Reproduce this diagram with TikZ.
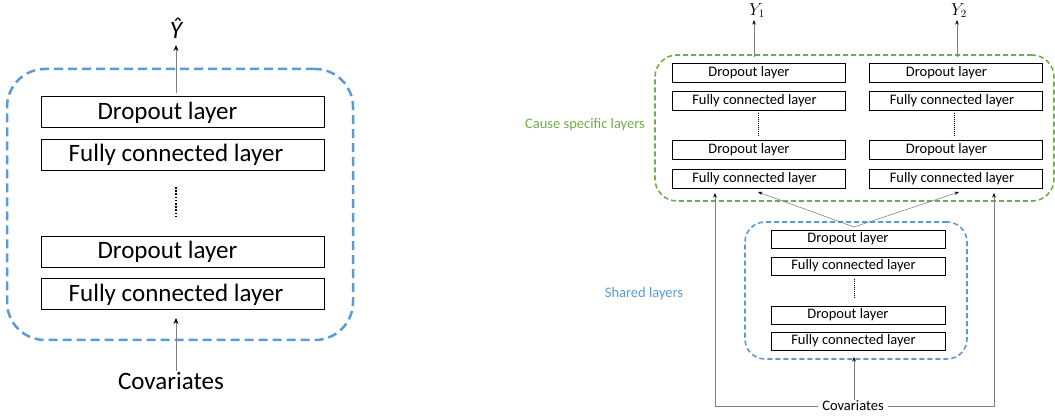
\documentclass[tikz,border=0pt]{standalone}
\usepackage{fontspec}
\setmainfont{Carlito}
\usetikzlibrary{arrows.meta}
\definecolor{myblue}{RGB}{91,155,213}
\definecolor{mygreen}{RGB}{112,173,71}
\newcommand{\shl}[2]{\hspace*{-#1}#2}
\begin{document}
\begin{tikzpicture}[x=1pt,y=-1pt,
  bigbox/.style={draw, line width=1pt, minimum width=283pt, minimum height=31pt, inner sep=0pt, font=\fontsize{25}{27}\selectfont},
  smallbox/.style={draw, line width=0.7pt, minimum width=173pt, minimum height=19pt, inner sep=0pt, font=\fontsize{14.5}{16}\selectfont},
  sharedbox/.style={smallbox, minimum width=174pt, minimum height=18pt},
  arr/.style={draw=gray, line width=0.8pt, -{Stealth[black,length=6pt,width=5pt]}},
  sarr/.style={draw=gray, line width=0.6pt, -{Stealth[black,length=4.5pt,width=3.5pt]}},
  bigdots/.style={line width=1.6pt, dash pattern=on 1.6pt off 1.6pt},
  smalldots/.style={line width=1pt, dash pattern=on 1pt off 1pt},
  plain/.style={inner sep=1pt},
]
\useasboundingbox (0,0) rectangle (1055,419);

% ---------------- left diagram ----------------
\node[draw=myblue, dashed, dash pattern=on 9pt off 5pt, line width=2.5pt, rounded corners=38pt,
      minimum width=346pt, minimum height=271pt] (lgrp) at (180,204.5) {};
\node[bigbox] (l1) at (182.5,112.5) {\shl{30pt}{Dropout layer}};
\node[bigbox] (l2) at (182.5,155) {\shl{13pt}{Fully connected layer}};
\node[bigbox] (l3) at (182.5,252) {\shl{30pt}{Dropout layer}};
\node[bigbox] (l4) at (182.5,294.5) {\shl{13pt}{Fully connected layer}};
\draw[bigdots] (176,187) -- (176,217);
\node[plain, anchor=south, font=\fontsize{25}{27}\selectfont\itshape] (yhat) at (176,40) {Ŷ};
\node[plain, font=\fontsize{25}{27}\selectfont] (lcov) at (171,381) {Covariates};
\coordinate (lin) at (176,318);
\coordinate (lout) at (176,93);
\draw[arr] (lout) -- (lout |- 0,45);
\draw[arr] (lcov.north -| lin) -- (lin);

% ---------------- right diagram ----------------
\node[draw=mygreen, dashed, dash pattern=on 5pt off 3pt, line width=1.6pt, rounded corners=22pt,
      minimum width=399pt, minimum height=146pt] (cgrp) at (854.5,128) {};
\node[draw=myblue, dashed, dash pattern=on 5pt off 3pt, line width=1.6pt, rounded corners=20pt,
      minimum width=222pt, minimum height=137pt] (sgrp) at (856,290.5) {};

\node[smallbox] (a1) at (758.5,72.5) {\shl{19pt}{Dropout layer}};
\node[smallbox] (a2) at (758.5,100.5) {\shl{8pt}{Fully connected layer}};
\node[smallbox] (a3) at (758.5,150) {\shl{19pt}{Dropout layer}};
\node[smallbox] (a4) at (758.5,178.5) {\shl{8pt}{Fully connected layer}};
\draw[smalldots] (758,113) -- (758,136);

\node[smallbox] (b1) at (956,72.5) {\shl{19pt}{Dropout layer}};
\node[smallbox] (b2) at (956,100.5) {\shl{8pt}{Fully connected layer}};
\node[smallbox] (b3) at (956,150) {\shl{19pt}{Dropout layer}};
\node[smallbox] (b4) at (956,178.5) {\shl{8pt}{Fully connected layer}};
\draw[smalldots] (954,113) -- (954,136);

\node[sharedbox] (s1) at (858,239) {\shl{20pt}{Dropout layer}};
\node[sharedbox] (s2) at (858,266) {\shl{9pt}{Fully connected layer}};
\node[sharedbox] (s3) at (858,315) {\shl{20pt}{Dropout layer}};
\node[sharedbox] (s4) at (858,341) {\shl{9pt}{Fully connected layer}};
\draw[smalldots] (854,279) -- (854,299);

\node[plain, font=\fontsize{14.5}{16}\selectfont, text=mygreen] (clab) at (585,125) {Cause specific layers};
\node[plain, font=\fontsize{14.5}{16}\selectfont, text=myblue] (slab) at (644,294) {Shared layers};

\node[plain, anchor=south, font=\fontsize{16}{18}\selectfont] (y1) at (757,19) {$Y_1$};
\node[plain, anchor=south, font=\fontsize{16}{18}\selectfont] (y2) at (959,19) {$Y_2$};
\coordinate (y1o) at (754,57);
\coordinate (y2o) at (957,57);
\draw[sarr] (y1o) -- (y1o |- 0,20);
\draw[sarr] (y2o) -- (y2o |- 0,20);

\node[plain, font=\fontsize{14.5}{16}\selectfont] (rcov) at (853,406) {Covariates};
\coordinate (sin) at (854,357);
\draw[sarr] (rcov.north -| sin) -- (sin);

\coordinate (split) at (854,227);
\coordinate (ain) at (758,192);
\coordinate (bin) at (959,192);
\draw[sarr] (split) -- (ain);
\draw[sarr] (split) -- (bin);

\coordinate (aside) at (715,193);
\coordinate (bside) at (994,193);
\draw[sarr] ([xshift=-3pt]rcov.west) -| (aside);
\draw[sarr] ([xshift=3pt]rcov.east) -| (bside);
\end{tikzpicture}
\end{document}
